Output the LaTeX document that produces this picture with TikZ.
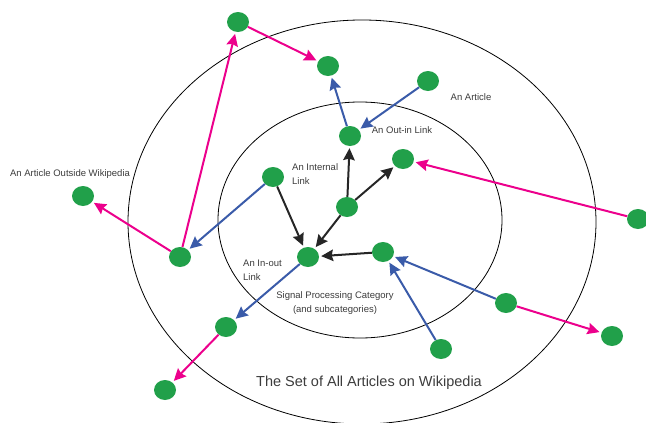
\documentclass[tikz,border=0pt]{standalone}
\usepackage{fontspec}
\setmainfont{Liberation Sans}
\usetikzlibrary{shapes.geometric, arrows.meta, positioning}

\definecolor{artgreen}{HTML}{21A04A}
\definecolor{linkpink}{HTML}{EC008C}
\definecolor{linkblue}{HTML}{3A5BA9}
\definecolor{labelgray}{HTML}{3C3C3C}

\begin{document}
\begin{tikzpicture}[
    x=1pt, y=-1pt,
    article/.style={ellipse, fill=artgreen, minimum width=22pt, minimum height=20pt, inner sep=0pt},
    caption/.style={text=labelgray, inner sep=0pt, font=\fontsize{9.5}{13.5}\selectfont},
    link/.style={-{Stealth[length=12pt, width=11.5pt, inset=1.5pt]}, line width=2pt, shorten >=2pt},
    pinklink/.style={link, draw=linkpink, fill=linkpink},
    bluelink/.style={link, draw=linkblue, fill=linkblue},
    blacklink/.style={link, draw=black!85, fill=black!85}
]
    \useasboundingbox (0,0) rectangle (646,423);

    % Sets
    \draw[line width=0.8pt] (362,222) ellipse [x radius=234pt, y radius=202pt];
    \draw[line width=0.8pt] (360,220) ellipse [x radius=142pt, y radius=118pt];

    % Articles
    \node[article] (top) at (238,22) {};
    \node[article] (upper) at (328,66) {};
    \node[article] (article) at (428,81) {};
    \node[article] (outin) at (350,136) {};
    \node[article] (catright) at (403,159) {};
    \node[article] (farright) at (638,219) {};
    \node[article] (catleft) at (273,177) {};
    \node[article] (center) at (347,207) {};
    \node[article] (inout) at (308,257) {};
    \node[article] (catlow) at (383,252) {};
    \node[article] (outside) at (83,196) {};
    \node[article] (left) at (180,257) {};
    \node[article] (lowleft) at (226,327) {};
    \node[article] (bottomleft) at (165,390) {};
    \node[article] (right) at (506,303) {};
    \node[article] (edgeright) at (612,336) {};
    \node[article] (lowmid) at (441,349) {};

    % Labels
    \node[caption] (outsidelbl) at (70,174) {An Article Outside Wikipedia};
    \node[caption] (articlelbl) at (471,97) {An Article};
    \node[caption] (outinlbl) at (402,130) {An Out-in Link};
    \node[caption, anchor=west, align=left] (internallbl) at (292,174) {An Internal\\Link};
    \node[caption, anchor=west, align=left] (inoutlbl) at (243,270) {An In-out\\Link};
    \node[caption, align=center] (categorylbl) at (335,303) {Signal Processing Category\\(and subcategories)};
    \node[caption, font=\fontsize{14.5}{17}\selectfont] (setlbl) at (369,383) {The Set of All Articles on Wikipedia};

    % Links leaving Wikipedia
    \draw[pinklink] (left) -- (top);
    \draw[pinklink] (top) -- (upper);
    \draw[pinklink] (left) -- (outside);
    \draw[pinklink] (farright) -- (catright);
    \draw[pinklink] (lowleft) -- (bottomleft);
    \draw[pinklink] (right) -- (edgeright);

    % Links inside Wikipedia
    \draw[bluelink] (article) -- (outin);
    \draw[bluelink] (outin) -- (upper);
    \draw[bluelink] (catleft) -- (left);
    \draw[bluelink] (inout) -- (lowleft);
    \draw[bluelink] (right) -- (catlow);
    \draw[bluelink] (lowmid) -- (catlow);

    % Internal links
    \draw[blacklink] (center) -- (outin);
    \draw[blacklink] (center) -- (catright);
    \draw[blacklink] (center) -- (inout);
    \draw[blacklink] (catleft) -- (inout);
    \draw[blacklink] (catlow) -- (inout);
\end{tikzpicture}
\end{document}
